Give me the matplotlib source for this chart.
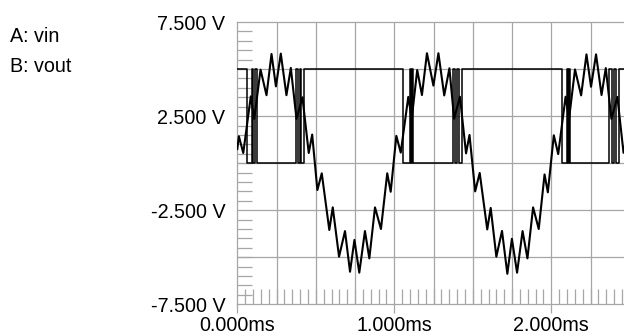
import numpy as np
import matplotlib.pyplot as plt

plt.rcParams['font.family'] = ['Liberation Sans', 'DejaVu Sans']

# vin: turning points of the rippled sine (ms, V)
vin_t = [0.000, 0.010, 0.038, 0.086, 0.108, 0.148, 0.186, 0.218, 0.246, 0.277,
         0.313, 0.341, 0.377, 0.415, 0.455, 0.477,
         0.510, 0.538, 0.586, 0.608, 0.648, 0.686, 0.718, 0.746, 0.777,
         0.813, 0.841, 0.877, 0.915, 0.955, 0.977,
         1.013, 1.041, 1.089, 1.111, 1.146, 1.176, 1.208, 1.249, 1.281,
         1.318, 1.351, 1.381, 1.418, 1.457, 1.479,
         1.515, 1.544, 1.592, 1.614, 1.650, 1.686, 1.720, 1.749, 1.782,
         1.817, 1.848, 1.884, 1.920, 1.957, 1.978,
         2.016, 2.044, 2.091, 2.113, 2.151, 2.190, 2.224, 2.253, 2.285,
         2.320, 2.347, 2.383, 2.421, 2.460, 2.482]
vin_v = [0.75, 1.43, 0.54, 3.55, 2.35, 4.97, 3.61, 5.80, 4.08, 5.82,
         3.61, 5.06, 2.35, 3.50, 0.54, 1.52,
         -1.43, -0.54, -3.55, -2.35, -4.97, -3.61, -5.77, -4.08, -5.82,
         -3.61, -5.06, -2.35, -3.50, -0.54, -1.52,
         1.45, 0.56, 3.52, 2.37, 4.95, 3.62, 5.84, 4.12, 5.84,
         3.60, 5.04, 2.36, 3.53, 0.52, 1.50,
         -1.50, -0.52, -3.52, -2.38, -4.97, -3.60, -5.88, -4.02, -5.82,
         -3.61, -5.06, -2.35, -3.50, -0.60, -1.55,
         1.48, 0.48, 3.53, 2.36, 4.98, 3.60, 5.78, 4.06, 5.78,
         3.62, 5.05, 2.35, 3.52, 0.55, 1.50]

# vout: comparator output switching times (ms) and levels (V)
vout_t = [0.0, 0.060, 0.095, 0.102, 0.110, 0.123, 0.376, 0.386, 0.398, 0.406, 0.425,
          1.058, 1.098, 1.105, 1.113, 1.121, 1.376, 1.388, 1.402, 1.412, 1.432,
          2.066, 2.098, 2.104, 2.111, 2.119, 2.370, 2.388, 2.402, 2.414, 2.434, 2.5]
vout_v = [5, 0, 5, 0, 5, 0, 5, 0, 5, 0, 5,
          0, 5, 0, 5, 0, 5, 0, 5, 0, 5,
          0, 5, 0, 5, 0, 5, 0, 5, 0, 5, 5]

y_ticks = [-7.5, -2.5, 2.5, 7.5]
y_labels = ['-7.500 V', '-2.500 V', '2.500 V', '7.500 V']
x_ticks = [0, 1, 2]
x_labels = ['0.000ms', '1.000ms', '2.000ms']
trace_names = ['A: vin', 'B: vout']

grey = '#a6a6a6'
fs = 14.2

fig = plt.figure(figsize=(6.24, 3.36), dpi=100)
ax = fig.add_axes([237.3 / 624, 31.7 / 336, 392.5 / 624, 282.3 / 336])
ax.set_xlim(0, 2.5)
ax.set_ylim(-7.5, 7.5)

for x in np.arange(0.25, 2.5, 0.25):
    ax.axvline(x, color=grey, lw=0.9, zorder=0.5)
for y in np.arange(-5, 5.1, 2.5):
    ax.axhline(y, color=grey, lw=0.9, zorder=0.5)
for s in ax.spines.values():
    s.set_color(grey)
    s.set_linewidth(0.9)

ax.plot(vin_t, vin_v, color='black', lw=1.5, zorder=3, solid_joinstyle='round')
ax.step(vout_t, vout_v, where='post', color='black', lw=1.1, zorder=3)

ax.set_xticks(x_ticks, x_labels)
ax.set_xticks(np.arange(0, 2.51, 0.05), minor=True)
ax.set_yticks(y_ticks, y_labels)
ax.set_yticks(np.arange(-7.5, 7.51, 0.5), minor=True)
ax.tick_params(axis='x', which='major', direction='out', length=6.5, width=0.9,
               color=grey, pad=2.0, labelsize=fs)
ax.tick_params(axis='x', which='minor', direction='in', length=10.8, width=0.9, color=grey)
ax.tick_params(axis='y', which='major', length=0, pad=8.6, labelsize=fs)
ax.tick_params(axis='y', which='minor', direction='in', length=10.8, width=0.9, color=grey)

fig.text(10 / 624, 1 - 42 / 336, trace_names[0], fontsize=fs, va='baseline')
fig.text(10 / 624, 1 - 72 / 336, trace_names[1], fontsize=fs, va='baseline')

fig.savefig('out.png', dpi=100)
